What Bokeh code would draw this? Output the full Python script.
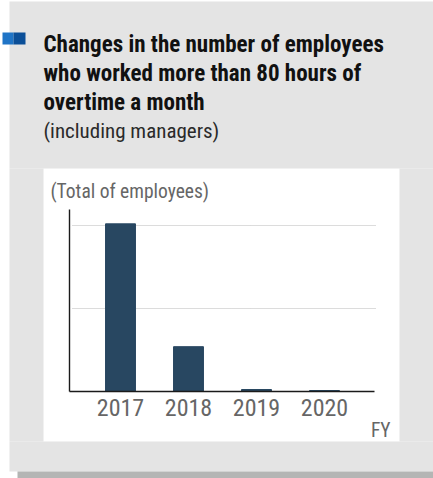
from bokeh.plotting import figure
from bokeh.models import Range1d, FixedTicker, BoxAnnotation, Label
from bokeh.embed import file_html
from bokeh.resources import INLINE

# ---- data ----
years = ["2017", "2018", "2019", "2020"]
positions = [0, 1, 2, 3]
employees = [202, 54, 2.4, 1.2]
grid_levels = [100, 200]

title_lines = ["Changes in the number of employees",
               "who worked more than 80 hours of",
               "overtime a month"]
subtitle = "(including managers)"
unit_label = "(Total of employees)"
x_unit = "FY"

FONT = "'Liberation Sans Narrow', 'Roboto Condensed', 'DejaVu Sans Condensed', 'Liberation Sans', sans-serif"
GRAY = "#e4e4e4"
W, H = 433, 478

# pixel geometry of the plotting area
X0_PX, STEP_PX = 120, 68          # centre of first bar, spacing between bars
Y0_PX, PX_PER_UNIT = 391, 0.83    # baseline, pixels per employee

p = figure(width=W, height=H, output_backend="svg", toolbar_location=None,
           x_range=Range1d(-X0_PX / STEP_PX, (W - X0_PX) / STEP_PX),
           y_range=Range1d(-(H - Y0_PX) / PX_PER_UNIT, Y0_PX / PX_PER_UNIT),
           min_border=0)
p.background_fill_color = "white"
p.border_fill_color = "white"
p.outline_line_color = None

p.vbar(x=positions, top=employees, width=0.44, color="#284761")

x_lo, x_hi = -0.75, 3.735
y_hi = 219.3

p.xaxis.fixed_location = 0
p.xaxis.bounds = (x_lo, x_hi)
p.xaxis.ticker = FixedTicker(ticks=positions)
p.xaxis.major_label_overrides = {pos: y for pos, y in zip(positions, years)}
p.xaxis.major_tick_out = 0
p.xaxis.major_tick_in = 0
p.xaxis.minor_tick_out = 0
p.xaxis.minor_tick_in = 0
p.xaxis.axis_line_color = "#1a1a1a"
p.xaxis.axis_line_width = 1.6
p.xaxis.major_label_text_font = FONT
p.xaxis.major_label_text_font_size = "24px"
p.xaxis.major_label_text_color = "#666666"
p.xaxis.major_label_standoff = 7

p.yaxis.fixed_location = x_lo
p.yaxis.bounds = (0, y_hi)
p.yaxis.ticker = FixedTicker(ticks=[])
p.yaxis.major_tick_out = 0
p.yaxis.major_tick_in = 0
p.yaxis.minor_tick_out = 0
p.yaxis.minor_tick_in = 0
p.yaxis.axis_line_color = "#1a1a1a"
p.yaxis.axis_line_width = 1.4

p.xgrid.visible = False
p.ygrid.ticker = FixedTicker(ticks=grid_levels)
p.ygrid.cross_bounds = (-0.706, 3.765)
p.ygrid.grid_line_color = "#b8b8b8"
p.ygrid.grid_line_dash = "1 1"
p.ygrid.grid_line_width = 1


def box(l, r, t, b, color):
    # page pixel coordinates -> screen units (origin bottom-left of frame)
    p.add_layout(BoxAnnotation(left=l, right=r, top=H - t, bottom=H - b,
                               left_units="screen", right_units="screen",
                               top_units="screen", bottom_units="screen",
                               fill_color=color, fill_alpha=1, line_color=None))


EDGE = W + 10
# grey panel around the white chart card
box(9, EDGE, 1, 168, GRAY)
box(9, 43, 168, 441, GRAY)
box(399, EDGE, 168, 441, GRAY)
box(9, EDGE, 441, 471, GRAY)
box(17, EDGE, 471, H + 10, "#b4b5b4")
# heading marker
box(2, 13, 32, 44, "#1f74c6")
box(13, 25, 32, 44, "#0b4f98")


def label(x, y, text, size, color, style="normal", align="left"):
    p.add_layout(Label(x=x, y=H - y, x_units="screen", y_units="screen", text=text,
                       text_font=FONT, text_font_size=size, text_color=color,
                       text_font_style=style, text_baseline="alphabetic",
                       text_align=align))


for i, line in enumerate(title_lines):
    label(43, 43.5 + i * 29, line, "23px", "#111111", "bold")
label(43, 130.5, subtitle, "21px", "#2a2a2a")
label(50, 191, unit_label, "19.5px", "#666666")
label(390, 430, x_unit, "19.5px", "#666666", align="right")

open("out.html", "w").write(file_html(p, INLINE))
